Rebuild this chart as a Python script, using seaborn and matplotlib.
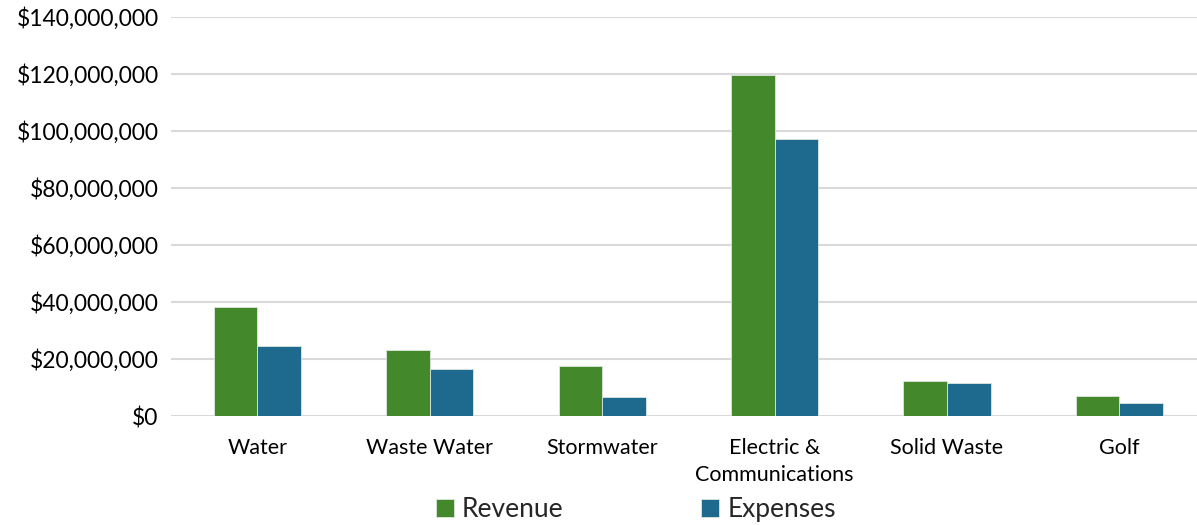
import matplotlib
matplotlib.use("Agg")
import matplotlib.pyplot as plt
import seaborn as sns
import pandas as pd
from matplotlib.ticker import FuncFormatter, MultipleLocator

categories = ["Water", "Waste Water", "Stormwater", "Electric &\nCommunications", "Solid Waste", "Golf"]
revenue = [38.2e6, 23.2e6, 17.5e6, 119.6e6, 12.3e6, 7.0e6]
expenses = [24.6e6, 16.5e6, 6.7e6, 97.2e6, 11.6e6, 4.6e6]
series = ["Revenue", "Expenses"]
colors = ["#43882B", "#1D6A8E"]

df = pd.DataFrame({
    "Category": categories * 2,
    "Series": ["Revenue"] * len(categories) + ["Expenses"] * len(categories),
    "Value": revenue + expenses,
})

sns.set_theme(style="white")
plt.rcParams['font.family'] = ['Lato', 'DejaVu Sans']

fig = plt.figure(figsize=(11.97, 5.25), dpi=100)
ax = fig.add_axes([171/1197, 1 - 416/525, 1 - 171/1197, (416 - 17)/525])

sns.barplot(data=df, x="Category", y="Value", hue="Series", hue_order=series,
            palette=colors, width=0.505, ax=ax, edgecolor="#dde6e0", linewidth=0.6,
            saturation=1)

ax.set_ylim(0, 140e6)
ax.yaxis.set_major_locator(MultipleLocator(20e6))
ax.yaxis.set_major_formatter(FuncFormatter(lambda v, p: f"${v:,.0f}"))
ax.grid(axis="y", color="#D9D9D9", linewidth=1.5)
ax.set_axisbelow(True)
for s in ax.spines.values():
    s.set_visible(False)
ax.set_xlabel("")
ax.set_ylabel("")
ax.tick_params(axis="y", labelsize=16.5, colors="#000000", length=0, pad=9)
ax.tick_params(axis="x", labelsize=15.5, colors="#000000", length=0, pad=16)
for lbl in ax.get_xticklabels():
    lbl.set_linespacing(1.4)
ax.set_xlim(-0.5, 5.45)

ax.legend(loc="center", bbox_to_anchor=(0.453, -0.235), ncol=2, frameon=False,
          fontsize=19, handlelength=0.7, handleheight=0.7, handletextpad=0.3,
          columnspacing=5.2)

fig.savefig("out.png", dpi=100)
